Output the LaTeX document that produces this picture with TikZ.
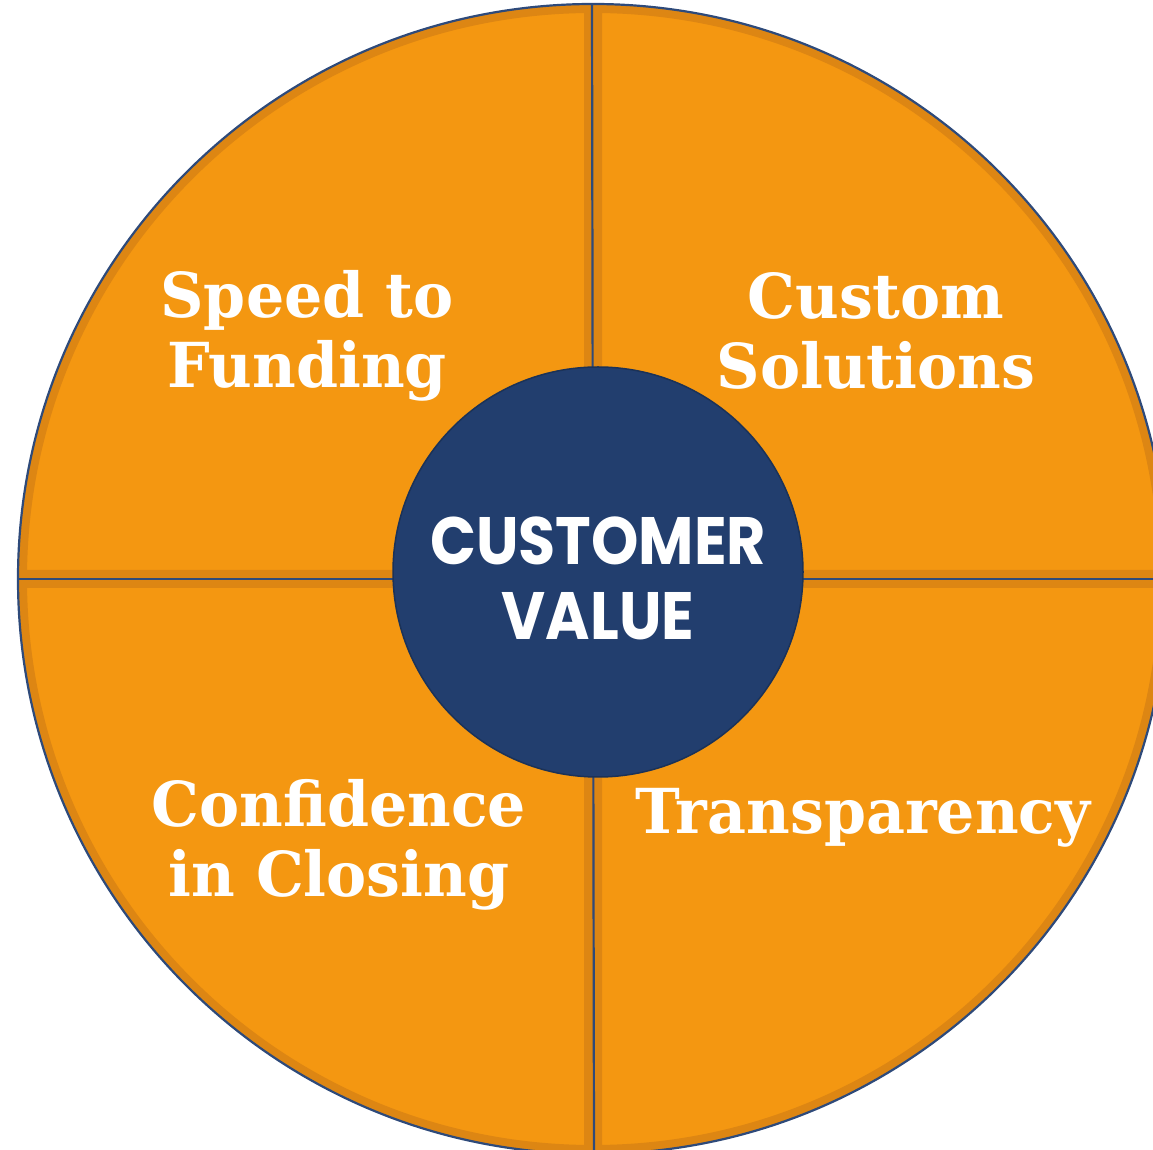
\documentclass[tikz,border=0pt]{standalone}
\usepackage{fontspec}
\newfontfamily\qfont{DejaVu Serif}[FakeStretch=0.97]
\newfontfamily\cfont{Poppins}[FakeStretch=0.9]
\definecolor{orangeA}{HTML}{F49711}
\definecolor{orangeB}{HTML}{DD8613}
\definecolor{navyA}{HTML}{223E6E}
\definecolor{navyB}{HTML}{1B3258}
\definecolor{lineNavy}{HTML}{2E4A7A}
\tikzset{
  quadtext/.style={text=white, align=center, anchor=base,
    font=\qfont\bfseries\fontsize{62}{70}\selectfont},
  coretext/.style={text=white, align=center, anchor=base,
    font=\cfont\bfseries\fontsize{67}{75}\selectfont},
  divider/.style={draw=lineNavy, line width=2.2pt},
}
\begin{document}
\begin{tikzpicture}[x=1pt,y=1pt]
\useasboundingbox (0,0) rectangle (1153,1149);
\clip (0,0) rectangle (1153,1149);
\coordinate (C) at (593,570);
\foreach \a in {0,90,180,270}{
  \begin{scope}
    \clip (C) -- ++(\a:575) arc[start angle=\a, delta angle=90, radius=575] -- cycle;
    \fill[orangeA] (C) -- ++(\a:575) arc[start angle=\a, delta angle=90, radius=575] -- cycle;
    \draw[orangeB, line width=18pt] (C) -- ++(\a:575) arc[start angle=\a, delta angle=90, radius=575] -- cycle;
  \end{scope}
}
\draw[divider] (C) circle[radius=575];
\coordinate (top) at (592,1145);
\coordinate (bot) at (594,-5);
\coordinate (lft) at (18,570);
\coordinate (rgt) at (1168,570);
\draw[divider] (top) -- (bot);
\draw[divider] (lft) -- (rgt);
\node[circle, fill=navyA, draw=navyB, line width=1.5pt, minimum size=410pt, inner sep=0pt] (core) at (598,577) {};
\node[coretext] (cv) at (598,509) {CUSTOMER\\VALUE};
\node[quadtext] (speed) at (307,761) {Speed to\\Funding};
\node[quadtext] (custom) at (876,760) {Custom\\Solutions};
\node[quadtext] (conf) at (339,253) {Confidence\\in Closing};
\node[quadtext] (trans) at (863,316) {Transparency};
\end{tikzpicture}
\end{document}
